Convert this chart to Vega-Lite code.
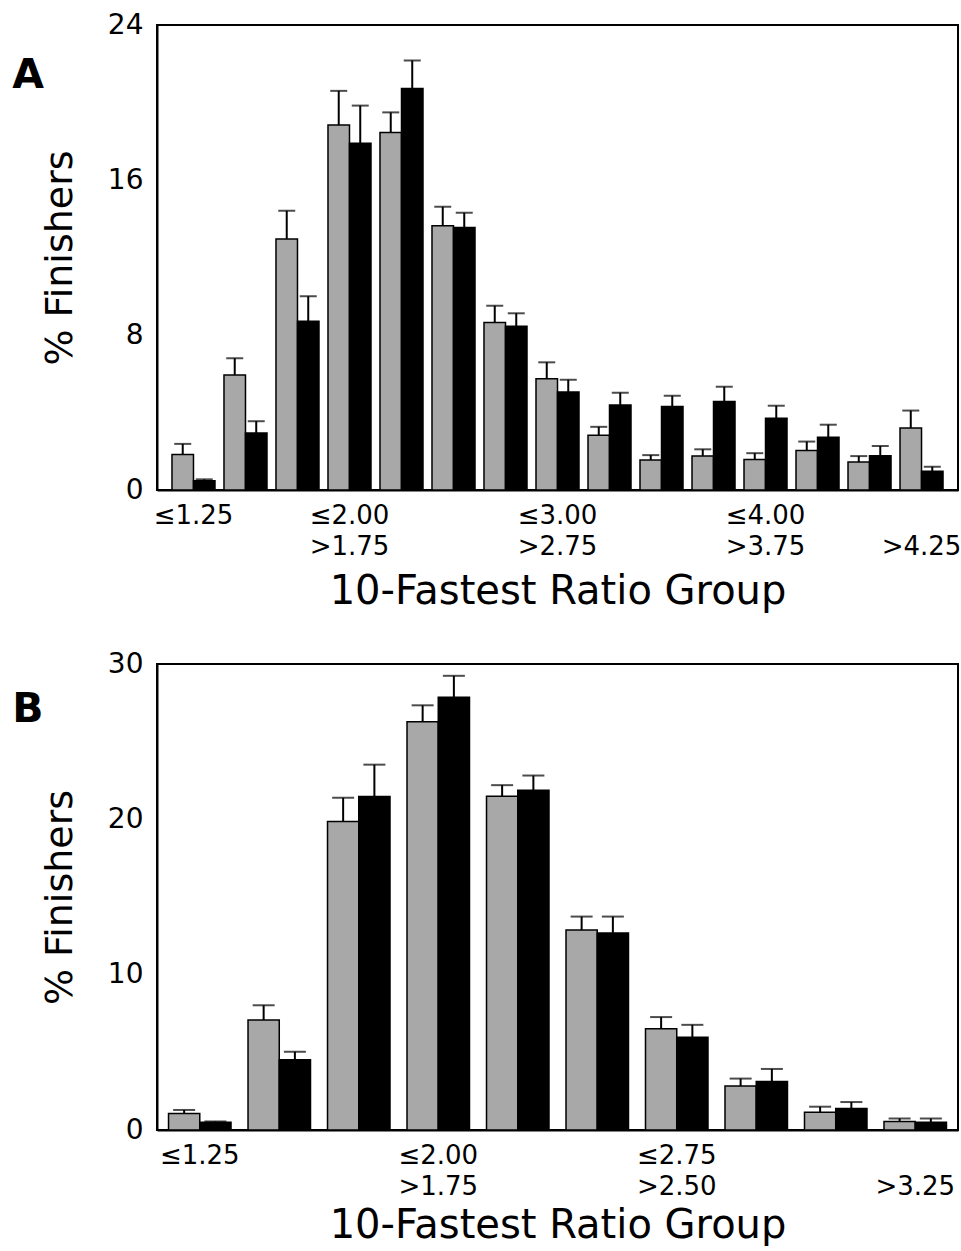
{
  "$schema": "https://vega.github.io/schema/vega-lite/v6.json",
  "padding": {"left": 11, "top": 10, "right": 0, "bottom": 0},
  "background": "white",
  "spacing": 37,
  "resolve": {"scale": {"x": "independent", "xOffset": "independent", "y": "independent", "color": "independent"}},
  "config": {
    "font": "DejaVu Sans",
    "view": {"stroke": "black", "strokeWidth": 2},
    "axis": {
      "domainColor": "black",
      "domainWidth": 2,
      "ticks": false,
      "grid": false,
      "labelColor": "black",
      "titleColor": "black",
      "labelFont": "DejaVu Sans",
      "titleFont": "DejaVu Sans",
      "titleFontWeight": "normal"
    }
  },
  "vconcat": [
    {
      "width": 801,
      "height": 465,
      "title": {"text": "A", "anchor": "start", "frame": "bounds", "orient": "top", "offset": -118, "dx": -29, "baseline": "alphabetic", "fontSize": 41, "fontWeight": "bold", "color": "black", "font": "DejaVu Sans"},
      "data": {
        "values": [
          {"bin": 1, "series": "S1", "value": 1.83, "upper": 2.38},
          {"bin": 1, "series": "S2", "value": 0.48, "upper": 0.55},
          {"bin": 2, "series": "S1", "value": 5.94, "upper": 6.8},
          {"bin": 2, "series": "S2", "value": 2.94, "upper": 3.55},
          {"bin": 3, "series": "S1", "value": 12.96, "upper": 14.41},
          {"bin": 3, "series": "S2", "value": 8.71, "upper": 10.0},
          {"bin": 4, "series": "S1", "value": 18.84, "upper": 20.6},
          {"bin": 4, "series": "S2", "value": 17.9, "upper": 19.84},
          {"bin": 5, "series": "S1", "value": 18.45, "upper": 19.49},
          {"bin": 5, "series": "S2", "value": 20.72, "upper": 22.17},
          {"bin": 6, "series": "S1", "value": 13.64, "upper": 14.62},
          {"bin": 6, "series": "S2", "value": 13.55, "upper": 14.31},
          {"bin": 7, "series": "S1", "value": 8.65, "upper": 9.51},
          {"bin": 7, "series": "S2", "value": 8.45, "upper": 9.12},
          {"bin": 8, "series": "S1", "value": 5.74, "upper": 6.59},
          {"bin": 8, "series": "S2", "value": 5.06, "upper": 5.69},
          {"bin": 9, "series": "S1", "value": 2.82, "upper": 3.26},
          {"bin": 9, "series": "S2", "value": 4.39, "upper": 5.02},
          {"bin": 10, "series": "S1", "value": 1.55, "upper": 1.8},
          {"bin": 10, "series": "S2", "value": 4.31, "upper": 4.86},
          {"bin": 11, "series": "S1", "value": 1.76, "upper": 2.1},
          {"bin": 11, "series": "S2", "value": 4.57, "upper": 5.33},
          {"bin": 12, "series": "S1", "value": 1.57, "upper": 1.9},
          {"bin": 12, "series": "S2", "value": 3.7, "upper": 4.35},
          {"bin": 13, "series": "S1", "value": 2.04, "upper": 2.5},
          {"bin": 13, "series": "S2", "value": 2.72, "upper": 3.37},
          {"bin": 14, "series": "S1", "value": 1.44, "upper": 1.75},
          {"bin": 14, "series": "S2", "value": 1.77, "upper": 2.27},
          {"bin": 15, "series": "S1", "value": 3.2, "upper": 4.1},
          {"bin": 15, "series": "S2", "value": 0.97, "upper": 1.2}
        ]
      },
      "encoding": {
        "x": {
          "field": "bin", "type": "ordinal", "sort": "ascending",
          "scale": {"paddingInner": 0.173, "paddingOuter": 0.288},
          "axis": {
            "title": "10-Fastest Ratio Group",
            "labelAngle": 0,
            "labelExpr": "datum.value == 1 ? '≤1.25' : datum.value == 4 ? ['≤2.00', '>1.75'] : datum.value == 8 ? ['≤3.00', '>2.75'] : datum.value == 12 ? ['≤4.00', '>3.75'] : datum.value == 15 ? ['', '>4.25'] : ''",
            "labelFontSize": 26,
            "labelPadding": 12,
            "labelLineHeight": 31,
            "labelOverlap": false,
            "titleFontSize": 40,
            "titlePadding": 12
          }
        },
        "xOffset": {"field": "series", "type": "nominal", "sort": ["S1", "S2"], "scale": {"paddingInner": 0, "paddingOuter": 0}}
      },
      "layer": [
        {
          "mark": {"type": "bar", "stroke": "black", "strokeWidth": 1.5},
          "encoding": {
            "y": {
              "field": "value", "type": "quantitative",
              "scale": {"domain": [0, 24], "nice": false},
              "axis": {"values": [0, 8, 16, 24], "title": "% Finishers", "labelFontSize": 28, "labelPadding": 14, "titleFontSize": 38, "titlePadding": 28}
            },
            "color": {"field": "series", "type": "nominal", "scale": {"domain": ["S1", "S2"], "range": ["#a8a8a8", "#000000"]}, "legend": null}
          }
        },
        {
          "mark": {"type": "rule", "strokeWidth": 2, "color": "black"},
          "encoding": {"y": {"field": "value", "type": "quantitative"}, "y2": {"field": "upper"}}
        },
        {
          "mark": {"type": "tick", "thickness": 2, "size": 17, "color": "black", "orient": "horizontal"},
          "encoding": {"y": {"field": "upper", "type": "quantitative"}}
        }
      ]
    },
    {
      "width": 801,
      "height": 466,
      "title": {"text": "B", "anchor": "start", "frame": "bounds", "orient": "top", "offset": -113, "dx": -29, "baseline": "alphabetic", "fontSize": 41, "fontWeight": "bold", "color": "black", "font": "DejaVu Sans"},
      "data": {
        "values": [
          {"bin": 1, "series": "S1", "value": 1.07, "upper": 1.29},
          {"bin": 1, "series": "S2", "value": 0.5, "upper": 0.55},
          {"bin": 2, "series": "S1", "value": 7.08, "upper": 8.03},
          {"bin": 2, "series": "S2", "value": 4.52, "upper": 5.04},
          {"bin": 3, "series": "S1", "value": 19.86, "upper": 21.39},
          {"bin": 3, "series": "S2", "value": 21.47, "upper": 23.52},
          {"bin": 4, "series": "S1", "value": 26.28, "upper": 27.34},
          {"bin": 4, "series": "S2", "value": 27.86, "upper": 29.24},
          {"bin": 5, "series": "S1", "value": 21.49, "upper": 22.2},
          {"bin": 5, "series": "S2", "value": 21.87, "upper": 22.82},
          {"bin": 6, "series": "S1", "value": 12.87, "upper": 13.74},
          {"bin": 6, "series": "S2", "value": 12.69, "upper": 13.74},
          {"bin": 7, "series": "S1", "value": 6.52, "upper": 7.27},
          {"bin": 7, "series": "S2", "value": 5.97, "upper": 6.77},
          {"bin": 8, "series": "S1", "value": 2.83, "upper": 3.31},
          {"bin": 8, "series": "S2", "value": 3.12, "upper": 3.93},
          {"bin": 9, "series": "S1", "value": 1.14, "upper": 1.5},
          {"bin": 9, "series": "S2", "value": 1.39, "upper": 1.8},
          {"bin": 10, "series": "S1", "value": 0.54, "upper": 0.74},
          {"bin": 10, "series": "S2", "value": 0.5, "upper": 0.74}
        ]
      },
      "encoding": {
        "x": {
          "field": "bin", "type": "ordinal", "sort": "ascending",
          "scale": {"paddingInner": 0.214, "paddingOuter": 0.145},
          "axis": {
            "title": "10-Fastest Ratio Group",
            "labelAngle": 0,
            "labelExpr": "datum.value == 1 ? '≤1.25' : datum.value == 4 ? ['≤2.00', '>1.75'] : datum.value == 7 ? ['≤2.75', '>2.50'] : datum.value == 10 ? ['', '>3.25'] : ''",
            "labelFontSize": 26,
            "labelPadding": 12,
            "labelLineHeight": 31,
            "labelOverlap": false,
            "titleFontSize": 40,
            "titlePadding": 6
          }
        },
        "xOffset": {"field": "series", "type": "nominal", "sort": ["S1", "S2"], "scale": {"paddingInner": 0, "paddingOuter": 0}}
      },
      "layer": [
        {
          "mark": {"type": "bar", "stroke": "black", "strokeWidth": 1.5},
          "encoding": {
            "y": {
              "field": "value", "type": "quantitative",
              "scale": {"domain": [0, 30], "nice": false},
              "axis": {"values": [0, 10, 20, 30], "title": "% Finishers", "labelFontSize": 28, "labelPadding": 14, "titleFontSize": 38, "titlePadding": 28}
            },
            "color": {"field": "series", "type": "nominal", "scale": {"domain": ["S1", "S2"], "range": ["#a8a8a8", "#000000"]}, "legend": null}
          }
        },
        {
          "mark": {"type": "rule", "strokeWidth": 2, "color": "black"},
          "encoding": {"y": {"field": "value", "type": "quantitative"}, "y2": {"field": "upper"}}
        },
        {
          "mark": {"type": "tick", "thickness": 2, "size": 22, "color": "black", "orient": "horizontal"},
          "encoding": {"y": {"field": "upper", "type": "quantitative"}}
        }
      ]
    }
  ]
}
